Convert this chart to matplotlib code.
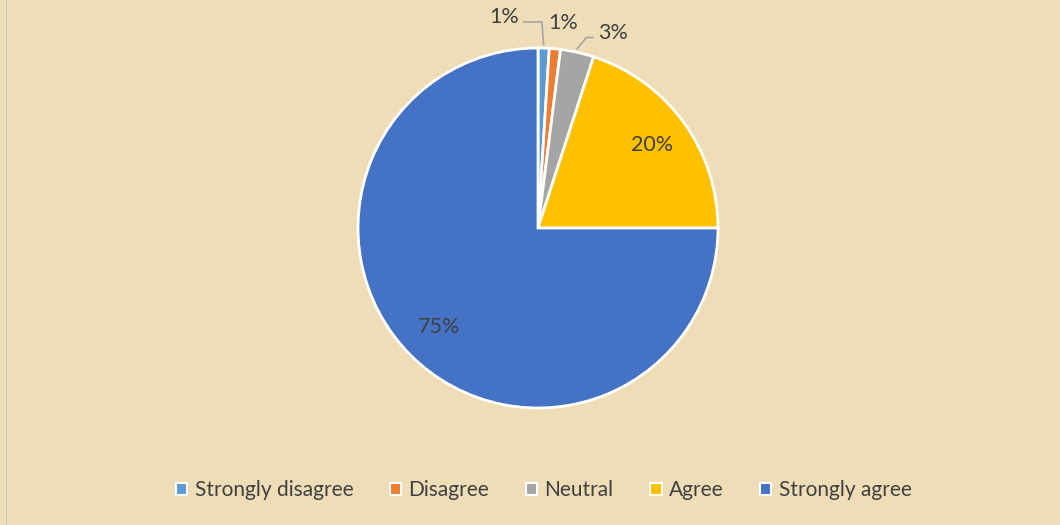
import numpy as np
import matplotlib
matplotlib.use("Agg")
import matplotlib.pyplot as plt
from matplotlib.patches import Rectangle

labels = ["Strongly disagree", "Disagree", "Neutral", "Agree", "Strongly agree"]
values = [1, 1, 3, 20, 75]
colors = ["#5B9BD5", "#ED7D31", "#A5A5A5", "#FFC000", "#4472C4"]

plt.rcParams['font.family'] = ['Lato', 'DejaVu Sans']
txt = "#404040"
bg = "#EFDDB7"

fig = plt.figure(figsize=(10.6, 5.25), dpi=100, facecolor=bg)
# thin grey frame line at the left edge
fig.patches.append(Rectangle((0.0055, 0), 0.0015, 1, transform=fig.transFigure,
                             facecolor="#C8C8C8", edgecolor="none"))

ax = fig.add_axes([358 / 1060, 117 / 525, 360 / 1060, 360 / 525])
ax.set_facecolor("none")
wedges, _ = ax.pie(values, colors=colors, startangle=90, counterclock=False,
                   radius=1, wedgeprops=dict(edgecolor="white", linewidth=2))
ax.set_xlim(-1, 1)
ax.set_ylim(-1, 1)
ax.set_aspect("equal")
ax.axis("off")

total = sum(values)
cum = np.cumsum([0] + values)
fs = 15.5
# inside labels for big slices, outside with leader lines for small ones
outside = {0: (-0.19, 1.17, True), 1: (0.14, 1.14, False), 2: (0.415, 1.083, True)}
for i, v in enumerate(values):
    mid = np.deg2rad(90 - 360 * (cum[i] + v / 2) / total)
    pct = f"{v}%"
    if i in outside:
        tx, ty, line = outside[i]
        ex, ey = np.cos(mid), np.sin(mid)
        ax.text(tx, ty, pct, ha="center", va="center", fontsize=fs, color=txt, clip_on=False)
        if line:
            if tx < ex:
                hx = tx + 0.11
                kx = ex - 0.01
            else:
                hx = tx - 0.11
                kx = ex + 0.05
            ax.plot([hx, kx, ex], [ty - 0.025, ty - 0.025, ey + 0.02],
                    color="#A6A6A6", lw=1.2, clip_on=False)
    else:
        r = 0.78
        ax.text(r * np.cos(mid), r * np.sin(mid), pct, ha="center", va="center",
                fontsize=fs, color=txt)

handles = [plt.Rectangle((0, 0), 1, 1, facecolor=c, edgecolor="white", linewidth=1.5) for c in colors]
leg = fig.legend(handles, labels, loc="center", bbox_to_anchor=(0.513, 0.066), ncol=5,
                 frameon=False, fontsize=15, handlelength=0.55, handleheight=0.55,
                 handletextpad=0.35, columnspacing=1.75)
for t in leg.get_texts():
    t.set_color(txt)

fig.savefig("out.png", dpi=100, facecolor=bg)
